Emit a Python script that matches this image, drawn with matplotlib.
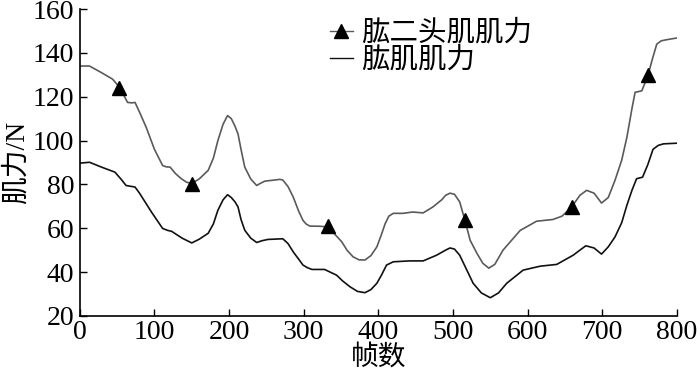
import matplotlib
matplotlib.use('Agg')
import matplotlib.pyplot as plt
from matplotlib.lines import Line2D

plt.rcParams['font.family'] = ['Liberation Serif', 'Noto Sans CJK SC']

# upper curve: biceps (grey)
biceps_x = [0, 13, 29, 44, 54, 60, 64, 70, 74, 80, 89, 100, 111, 116, 121, 128, 136, 143,
            150, 160, 172, 179, 185, 192, 198, 203, 208, 212, 216, 221, 229, 237, 242,
            248, 261, 268, 272, 279, 286, 293, 299, 303, 308, 322, 333, 341, 351, 358,
            366, 374, 382, 390, 398, 404, 409, 414, 420, 433, 446, 460, 473, 485, 490,
            496, 502, 509, 516, 523, 532, 540, 548, 556, 567, 590, 612, 634, 646, 659,
            670, 679, 689, 699, 708, 717, 726, 733, 740, 744, 753, 761, 767, 773, 779,
            786, 800]
biceps_y = [134, 134, 131, 128, 124, 120, 117.4, 117.2, 117.4, 113, 106, 96, 88.6, 88,
            87.9, 85, 82.6, 81, 80.4, 82.5, 86.4, 92, 100, 107.5, 111.4, 110, 106.5, 103,
            96, 87.9, 82.5, 79.5, 80.5, 81.5, 82, 82.3, 82, 79, 74.2, 68, 63.6, 62, 61,
            60.9, 60.6, 57.5, 53.8, 50, 47, 45.6, 45.5, 47.5, 51.5, 57, 62, 65.5, 66.8,
            66.8, 67.4, 67, 69.7, 73, 75, 76, 75.5, 72, 63.6, 54.5, 48.6, 44, 41.8, 43.5,
            50, 59, 63.2, 64, 65.5, 69.7, 75, 77.3, 76, 71.5, 74, 81.8, 91, 101.5, 115,
            122, 122.7, 129.5, 137, 144, 145.5, 146, 146.8]

# triangle markers on the biceps curve
marker_x = [52, 150, 332, 516, 659, 761]
marker_y = [124, 80.4, 60.8, 63.6, 69.7, 130]

# lower curve: brachialis (black)
brach_x = [0, 13, 29, 47, 55, 62, 74, 80, 96, 111, 118, 123, 137, 150, 160, 172, 179,
           185, 192, 198, 203, 208, 212, 216, 221, 229, 237, 244, 252, 272, 279, 286,
           293, 299, 305, 311, 328, 344, 352, 362, 372, 382, 390, 398, 404, 411, 420,
           442, 460, 478, 490, 496, 502, 509, 517, 527, 538, 550, 561, 572, 594, 617,
           639, 661, 670, 678, 689, 699, 708, 717, 726, 733, 740, 746, 754, 761, 768,
           775, 782, 800]
brach_y = [89.7, 90.1, 87.9, 85.6, 82.5, 79.5, 78.8, 76, 67.4, 59.9, 59, 58.6, 55.5,
           53.3, 55, 57.7, 62, 68.2, 73, 75.3, 74, 72, 69.7, 64, 59.1, 55.5, 53.5, 54.3,
           54.9, 55.2, 53, 49.2, 46, 43.2, 42, 41.2, 41.2, 38.6, 36, 33.3, 31.2, 30.6,
           32, 34.9, 38.5, 43.2, 44.7, 45.1, 45.1, 47.7, 50, 51, 50.5, 47.7, 42, 34.9,
           30.5, 28.3, 30.5, 34.9, 40.9, 42.7, 43.5, 47.7, 50, 52, 51, 48.2, 51.5, 56,
           62.5, 70.5, 77.5, 82.6, 83.3, 89, 96, 97.8, 98.5, 98.8]

x_ticks = [0, 100, 200, 300, 400, 500, 600, 700, 800]
y_ticks = [20, 40, 60, 80, 100, 120, 140, 160]

fig = plt.figure(figsize=(7, 3.77), dpi=100)
ax = fig.add_axes([0.114, 0.162, 0.853, 0.814])

grey = '#5a5a5a'
ax.plot(biceps_x, biceps_y, color=grey, lw=1.2)
ax.plot(marker_x, marker_y, ls='none', marker='^', color='black', ms=10)
ax.plot(brach_x, brach_y, color='#111111', lw=1.2)

ax.set_xlim(0, 800)
ax.set_ylim(20, 160)
ax.set_xticks(x_ticks)
ax.set_yticks(y_ticks)
ax.tick_params(direction='in', length=5, width=1, labelsize=20)
ax.tick_params(axis='x', pad=3)
ax.tick_params(axis='y', pad=4)
for s in ['top', 'right']:
    ax.spines[s].set_visible(False)
for s in ['left', 'bottom']:
    ax.spines[s].set_linewidth(1.2)

ax.set_xlabel('帧数', fontsize=20, labelpad=0)
ax.set_ylabel('肌力/N', fontsize=20, labelpad=2)

handles = [Line2D([], [], color=grey, lw=1, marker='^', mfc='black', mec='black', ms=10),
           Line2D([], [], color='#111111', lw=1)]
ax.legend(handles, ['肱二头肌肌力', '肱肌肌力'], loc='upper left',
          bbox_to_anchor=(0.40, 1.0), frameon=False, fontsize=20.5,
          handlelength=0.8, handletextpad=0.3, labelspacing=0.0, borderaxespad=0)

fig.savefig('out.png', dpi=100)
